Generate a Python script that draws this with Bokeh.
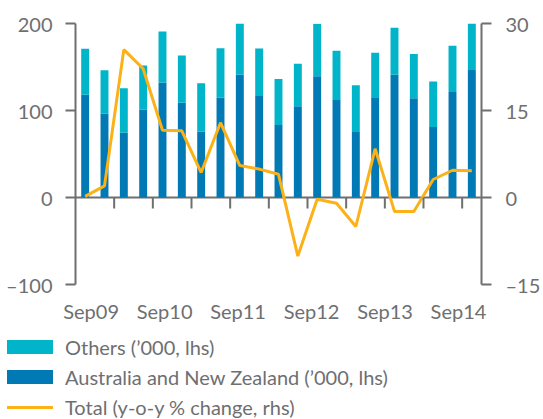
from bokeh.plotting import figure
from bokeh.layouts import column
from bokeh.models import (Range1d, LinearAxis, FixedTicker, Span, Div,
                          ColumnDataSource, CustomJSTickFormatter)
from bokeh.embed import file_html
from bokeh.resources import INLINE

# ---- data ----
quarters = ["Sep09", "Dec09", "Mar10", "Jun10", "Sep10", "Dec10", "Mar11", "Jun11",
            "Sep11", "Dec11", "Mar12", "Jun12", "Sep12", "Dec12", "Mar13", "Jun13",
            "Sep13", "Dec13", "Mar14", "Jun14", "Sep14"]
anz = [118.0, 96.2, 74.3, 100.8, 132.2, 108.8, 75.5, 114.9, 141.4, 116.8, 83.2,
       105.0, 139.3, 113.0, 75.2, 115.3, 141.2, 114.1, 80.9, 121.4, 147.3]
others = [52.9, 50.1, 51.4, 50.9, 58.6, 54.4, 55.9, 56.7, 59.7, 54.4, 53.0,
          48.8, 60.3, 55.7, 53.8, 51.1, 53.8, 50.8, 52.3, 53.0, 56.5]
yoy_change = [0.2, 2.0, 25.5, 22.2, 11.6, 11.5, 4.3, 12.9, 5.5, 4.9, 4.0,
              -10.1, -0.3, -1.0, -5.0, 8.4, -2.4, -2.4, 3.1, 4.7, 4.6]
x_tick_labels = ["Sep09", "Sep10", "Sep11", "Sep12", "Sep13", "Sep14"]
lhs_ticks = [-100, 0, 100, 200]
rhs_ticks = [-15, 0, 15, 30]
legend_labels = ["Others (\u2019000, lhs)",
                 "Australia and New Zealand (\u2019000, lhs)",
                 "Total (y-o-y % change, rhs)"]

# ---- styles ----
C_OTHERS = "#00b4c9"
C_ANZ = "#0079b4"
C_LINE = "#fbb117"
C_GRAY = "#6e6f71"
FONT = "Lato"
FSIZE = "20px"

x = list(range(len(quarters)))
src = ColumnDataSource(dict(x=x, anz=anz, others=others, yoy=yoy_change))

p = figure(width=543, height=330, output_backend="svg", toolbar_location=None,
           x_range=Range1d(-0.5, len(quarters) - 0.5), y_range=Range1d(-100, 200),
           min_border_left=75, min_border_right=58, min_border_top=23, min_border_bottom=46)
p.extra_y_ranges = {"rhs": Range1d(-15, 30)}
p.outline_line_color = None
p.background_fill_color = "white"
p.xgrid.visible = False
p.ygrid.visible = False

zero = Span(location=0, dimension="width", line_color=C_GRAY, line_width=2, level="underlay")
p.add_layout(zero)

bars = p.vbar_stack(["anz", "others"], x="x", width=0.41, source=src,
                    color=[C_ANZ, C_OTHERS], line_color=None)
line = p.line("x", "yoy", source=src, y_range_name="rhs", line_color=C_LINE, line_width=3)

# small ticks hanging under the zero line, between every second pair of bars
mids = [i + 0.5 for i in range(1, len(quarters) - 1, 2)]
p.segment(x0=mids, y0=[0] * len(mids), x1=mids, y1=[-12.5] * len(mids),
          line_color=C_GRAY, line_width=2)

neg_fmt = CustomJSTickFormatter(code="return tick < 0 ? '\u2013' + Math.abs(tick) : String(tick);")

ya = p.yaxis[0]
ya.ticker = FixedTicker(ticks=lhs_ticks)
ya.formatter = neg_fmt
ra = LinearAxis(y_range_name="rhs", ticker=FixedTicker(ticks=rhs_ticks), formatter=neg_fmt)
p.add_layout(ra, "right")
for ax in (ya, ra):
    ax.axis_line_color = C_GRAY
    ax.axis_line_width = 2
    ax.major_tick_line_color = C_GRAY
    ax.major_tick_line_width = 2
    ax.major_tick_out = 10
    ax.major_tick_in = 0
    ax.minor_tick_line_color = None
    ax.minor_tick_out = 0
    ax.major_label_text_font = FONT
    ax.major_label_text_font_size = FSIZE
    ax.major_label_text_color = C_GRAY
ya.major_label_standoff = 13
ra.major_label_standoff = 14

xa = p.xaxis[0]
xa.ticker = FixedTicker(ticks=[round(0.31 + 3.8 * i, 3) for i in range(len(x_tick_labels))])
xa.formatter = CustomJSTickFormatter(args=dict(labels=x_tick_labels), code="return labels[index];")
xa.axis_line_color = None
xa.major_tick_line_color = None
xa.minor_tick_line_color = None
xa.major_tick_out = 0
xa.major_tick_in = 0
xa.minor_tick_out = 0
xa.minor_tick_in = 0
xa.major_label_text_font = FONT
xa.major_label_text_font_size = FSIZE
xa.major_label_text_color = C_GRAY
xa.major_label_standoff = 14

# ---- legend (HTML block under the chart) ----
swatches = [
    f"display:inline-block;width:46px;height:14px;background:{C_OTHERS};",
    f"display:inline-block;width:46px;height:14px;background:{C_ANZ};",
    f"display:inline-block;width:46px;height:3px;background:{C_LINE};",
]
rows = "".join(
    f'<div style="display:flex;align-items:center;height:30px;">'
    f'<span style="{sw}flex:none;margin-left:7px;margin-right:12px;"></span>'
    f'<span style="white-space:nowrap;">{lab}</span></div>'
    for sw, lab in zip(swatches, legend_labels)
)
legend_div = Div(
    text=f'<div style="padding-top:2px;font-family:{FONT};font-size:{FSIZE};color:{C_GRAY};'
         f'line-height:1;">{rows}</div>',
    width=543, height=89, margin=0,
)

layout = column(p, legend_div, spacing=0)
open("out.html", "w").write(file_html(layout, INLINE))
